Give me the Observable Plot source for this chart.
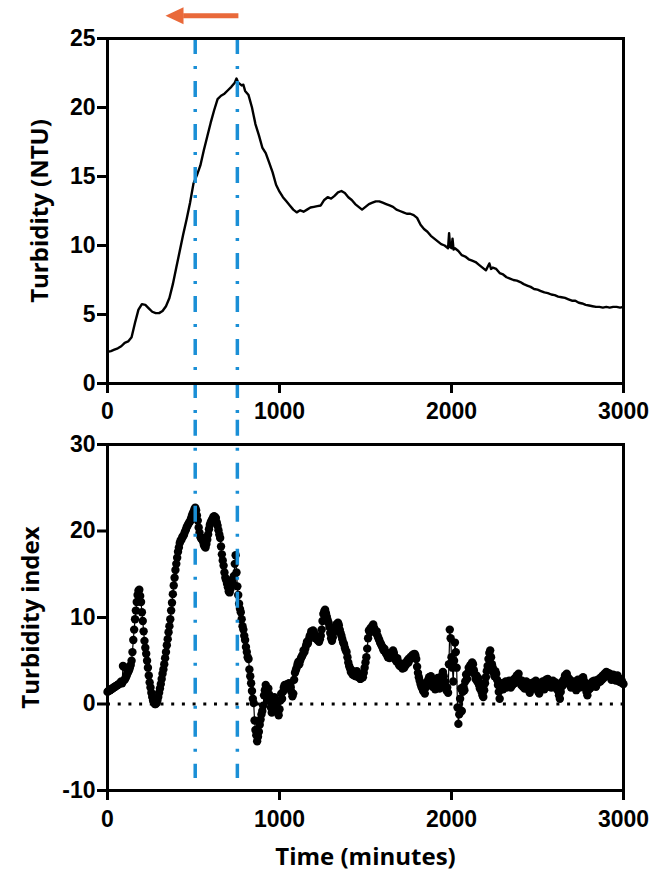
<!DOCTYPE html>
<html>
<head>
<meta charset="utf-8">
<script src="https://cdn.jsdelivr.net/npm/d3@7"></script>
<script src="https://cdn.jsdelivr.net/npm/@observablehq/plot@0.6"></script>
<style>
  html, body { margin: 0; padding: 0; background: #fff; }
  #wrap { width: 662px; height: 874px; position: relative; }
  #wrap svg { display: block; }
</style>
</head>
<body>
<div id="wrap"></div>
<script>
// ---------- data ----------
const xTicks = [0, 1000, 2000, 3000];
const topYTicks = [0, 5, 10, 15, 20, 25];
const botYTicks = [-10, 0, 10, 20, 30];
const topLabel = "Turbidity (NTU)";
const botLabel = "Turbidity index";
const xLabel = "Time (minutes)";

// vertical guide lines (minutes)
const guideTimes = [510, 755];
// orange arrow annotation (minutes, NTU)
const arrowStart = [761, 26.65];
const arrowEnd = [440, 26.65];
const arrowHead = [407, 26.65];

// top panel: turbidity (NTU)
const topTime = [0,20,40,60,80,100,110,120,140,160,180,200,220,240,260,280,300,320,340,360,380,400,420,440,460,480,500,520,540,560,580,600,620,640,660,680,700,720,740,750,760,780,790,800,820,840,860,880,900,920,940,960,980,1000,1020,1040,1060,1080,1100,1120,1140,1160,1180,1200,1220,1240,1260,1280,1300,1320,1340,1360,1380,1400,1420,1440,1460,1480,1500,1520,1540,1560,1580,1600,1620,1640,1660,1680,1700,1720,1740,1760,1780,1800,1820,1840,1860,1880,1900,1920,1940,1960,1980,1986,1992,2000,2006,2012,2020,2040,2060,2080,2100,2120,2140,2160,2180,2200,2220,2230,2240,2260,2280,2300,2320,2340,2360,2380,2400,2420,2440,2460,2480,2500,2520,2540,2560,2580,2600,2620,2640,2660,2680,2700,2720,2740,2760,2780,2800,2820,2840,2860,2880,2900,2920,2940,2960,2980,3000];
const topNTU = [2.3,2.35,2.45,2.55,2.7,2.95,3.0,3.05,3.35,4.4,5.35,5.75,5.7,5.45,5.2,5.1,5.1,5.25,5.6,6.2,7.2,8.4,9.6,10.8,11.9,13.1,14.5,15.1,15.8,16.9,17.9,18.9,19.8,20.6,20.85,21.0,21.25,21.5,21.8,22.1,21.8,21.6,21.65,21.2,20.9,20.0,18.8,18.0,17.1,16.7,16.0,15.3,14.4,13.9,13.5,13.2,12.9,12.6,12.4,12.55,12.45,12.6,12.75,12.8,12.85,12.9,13.3,13.5,13.4,13.6,13.85,13.95,13.8,13.5,13.3,13.0,12.8,12.6,12.8,13.0,13.1,13.2,13.2,13.1,13.0,12.9,12.8,12.6,12.5,12.4,12.3,12.3,12.2,12.0,11.5,11.2,11.0,10.7,10.5,10.3,10.1,10.0,9.8,10.9,9.9,9.8,10.5,9.7,9.8,9.6,9.3,9.2,9.0,8.9,8.8,8.6,8.4,8.2,8.7,8.3,8.4,8.3,8.0,7.9,7.7,7.6,7.5,7.45,7.35,7.2,7.1,7.0,6.85,6.8,6.7,6.6,6.55,6.45,6.4,6.3,6.25,6.2,6.1,6.0,6.0,5.85,5.8,5.7,5.65,5.6,5.55,5.55,5.5,5.55,5.5,5.55,5.55,5.5,5.55];

// bottom panel: turbidity index (one reading every 5 minutes)
const botTime = [
  0,5,10,15,20,25,30,35,40,45,50,55,60,65,70,75,80,85,90,95,
  100,105,110,115,120,125,130,135,140,145,150,155,160,165,170,175,180,185,190,195,
  200,205,210,215,220,225,230,235,240,245,250,255,260,265,270,275,280,285,290,295,
  300,305,310,315,320,325,330,335,340,345,350,355,360,365,370,375,380,385,390,395,
  400,405,410,415,420,425,430,435,440,445,450,455,460,465,470,475,480,485,490,495,
  500,505,510,515,520,525,530,535,540,545,550,555,560,565,570,575,580,585,590,595,
  600,605,610,615,620,625,630,635,640,645,650,655,660,665,670,675,680,685,690,695,
  700,705,710,715,720,725,730,735,740,745,750,755,760,765,770,775,780,785,790,795,
  800,805,810,815,820,825,830,835,840,845,850,855,860,865,870,875,880,885,890,895,
  900,905,910,915,920,925,930,935,940,945,950,955,960,965,970,975,980,985,990,995,
  1000,1005,1010,1015,1020,1025,1030,1035,1040,1045,1050,1055,1060,1065,1070,1075,1080,1085,1090,1095,
  1100,1105,1110,1115,1120,1125,1130,1135,1140,1145,1150,1155,1160,1165,1170,1175,1180,1185,1190,1195,
  1200,1205,1210,1215,1220,1225,1230,1235,1240,1245,1250,1255,1260,1265,1270,1275,1280,1285,1290,1295,
  1300,1305,1310,1315,1320,1325,1330,1335,1340,1345,1350,1355,1360,1365,1370,1375,1380,1385,1390,1395,
  1400,1405,1410,1415,1420,1425,1430,1435,1440,1445,1450,1455,1460,1465,1470,1475,1480,1485,1490,1495,
  1500,1505,1510,1515,1520,1525,1530,1535,1540,1545,1550,1555,1560,1565,1570,1575,1580,1585,1590,1595,
  1600,1605,1610,1615,1620,1625,1630,1635,1640,1645,1650,1655,1660,1665,1670,1675,1680,1685,1690,1695,
  1700,1705,1710,1715,1720,1725,1730,1735,1740,1745,1750,1755,1760,1765,1770,1775,1780,1785,1790,1795,
  1800,1805,1810,1815,1820,1825,1830,1835,1840,1845,1850,1855,1860,1865,1870,1875,1880,1885,1890,1895,
  1900,1905,1910,1915,1920,1925,1930,1935,1940,1945,1950,1955,1960,1965,1970,1975,1980,1985,1990,1995,
  2000,2005,2010,2015,2020,2025,2030,2035,2040,2045,2050,2055,2060,2065,2070,2075,2080,2085,2090,2095,
  2100,2105,2110,2115,2120,2125,2130,2135,2140,2145,2150,2155,2160,2165,2170,2175,2180,2185,2190,2195,
  2200,2205,2210,2215,2220,2225,2230,2235,2240,2245,2250,2255,2260,2265,2270,2275,2280,2285,2290,2295,
  2300,2305,2310,2315,2320,2325,2330,2335,2340,2345,2350,2355,2360,2365,2370,2375,2380,2385,2390,2395,
  2400,2405,2410,2415,2420,2425,2430,2435,2440,2445,2450,2455,2460,2465,2470,2475,2480,2485,2490,2495,
  2500,2505,2510,2515,2520,2525,2530,2535,2540,2545,2550,2555,2560,2565,2570,2575,2580,2585,2590,2595,
  2600,2605,2610,2615,2620,2625,2630,2635,2640,2645,2650,2655,2660,2665,2670,2675,2680,2685,2690,2695,
  2700,2705,2710,2715,2720,2725,2730,2735,2740,2745,2750,2755,2760,2765,2770,2775,2780,2785,2790,2795,
  2800,2805,2810,2815,2820,2825,2830,2835,2840,2845,2850,2855,2860,2865,2870,2875,2880,2885,2890,2895,
  2900,2905,2910,2915,2920,2925,2930,2935,2940,2945,2950,2955,2960,2965,2970,2975,2980,2985,2990,2995,
  3000
];
const botIndex = [
  1.4,1.5,1.55,1.6,1.7,1.75,1.8,1.9,1.95,2.0,2.1,2.15,2.2,2.3,2.35,2.45,2.6,2.4,4.4,4.3,
  2.8,3.0,3.2,3.5,3.7,3.9,4.2,4.5,5.0,6.0,7.4,8.6,9.8,10.8,11.8,12.6,13.1,13.2,12.5,11.8,
  10.6,9.6,8.4,7.3,6.5,5.8,5.0,4.2,3.3,2.5,1.9,1.3,0.8,0.4,0.2,0.0,0.0,0.1,0.4,0.8,
  1.3,1.8,2.3,2.9,3.5,4.0,4.6,5.3,6.0,6.8,7.5,8.3,9.0,9.8,10.8,11.7,12.7,13.7,14.6,15.5,
  16.2,16.9,17.6,18.1,18.6,18.9,19.0,19.3,19.4,19.6,19.9,20.1,20.4,20.6,20.8,21.0,21.1,21.4,21.7,22.0,
  22.2,22.5,22.7,22.4,21.8,21.2,20.4,19.8,19.3,19.1,19.2,18.8,18.4,18.2,18.1,18.5,19.0,19.6,20.2,20.7,
  21.0,21.2,21.4,21.6,21.7,21.6,21.5,21.0,20.6,20.1,19.6,19.2,18.2,17.3,16.6,16.0,15.2,14.6,14.3,13.9,
  13.5,13.0,12.9,13.3,13.8,14.4,13.9,14.8,16.2,17.2,15.2,13.6,12.6,11.6,11.0,10.6,9.8,9.0,8.6,7.9,
  7.4,6.6,6.0,5.4,5.2,4.0,3.2,2.4,1.5,0.6,0.1,-1.9,-3.0,-3.6,-4.3,-3.8,-3.2,-2.4,-1.8,-1.2,
  -0.8,-0.2,1.0,1.6,2.2,1.4,0.4,1.8,1.1,0.6,-0.4,-1.0,-0.6,0.2,0.8,0.2,-0.4,0.3,-0.9,-1.3,
  -0.6,0.4,1.2,0.6,1.4,1.9,2.2,2.0,1.8,2.3,2.1,2.4,2.2,1.9,1.4,0.9,1.2,2.8,3.6,3.9,
  4.2,4.6,4.9,4.6,5.0,5.3,5.5,5.7,6.2,6.0,6.4,6.8,7.2,7.0,7.4,7.8,8.0,8.4,8.2,8.5,
  8.3,7.9,7.6,7.8,7.4,7.6,7.2,7.5,7.9,8.6,9.6,10.4,10.7,10.9,10.5,10.1,9.7,9.4,8.9,8.2,
  7.6,7.3,7.7,8.3,8.6,8.9,9.2,9.0,9.4,9.1,8.6,8.2,7.9,7.5,7.1,6.9,6.5,6.2,6.0,5.4,
  4.8,4.4,4.1,3.7,3.9,3.4,3.6,3.3,3.5,3.2,3.8,3.4,3.1,3.3,2.9,3.0,3.4,3.1,3.6,4.2,
  4.8,5.4,6.4,7.6,8.5,8.3,8.8,8.6,9.0,9.2,8.8,8.5,8.2,8.4,7.9,7.6,7.4,7.1,6.9,6.7,
  6.5,6.2,6.4,6.0,5.8,5.9,5.4,5.6,5.3,5.8,5.5,6.0,6.2,5.9,5.4,5.1,4.9,5.3,4.8,4.5,
  4.4,4.7,4.3,4.1,4.4,4.2,4.7,4.5,4.9,5.1,4.8,5.3,5.2,5.5,5.3,5.7,5.5,5.8,5.6,5.2,
  4.3,3.6,3.1,2.7,2.3,2.0,1.8,1.5,1.6,1.2,1.9,2.5,2.2,2.8,3.1,2.6,3.2,2.4,2.0,2.6,
  2.2,1.7,1.9,2.4,3.0,2.6,1.8,2.2,2.8,3.3,3.7,3.2,2.6,2.0,1.6,1.9,1.3,4.6,8.6,7.6,
  5.4,4.2,2.6,5.0,7.1,6.0,4.2,-0.4,-2.3,-1.2,0.6,1.8,-0.8,1.4,2.0,1.6,2.6,3.4,2.9,3.6,
  4.2,3.9,4.5,4.1,4.8,4.6,3.9,3.4,2.9,3.3,2.6,3.0,2.2,1.8,2.4,1.4,1.0,0.8,1.6,2.4,
  3.1,3.8,4.4,5.2,5.9,6.2,5.4,4.6,4.2,3.6,3.2,3.8,3.5,2.8,2.2,1.4,0.6,1.8,2.4,2.0,
  1.7,2.3,2.0,2.6,1.9,2.4,2.1,2.7,2.3,1.9,2.5,2.2,2.8,2.4,3.0,2.6,3.3,3.0,3.5,2.8,
  2.5,2.2,2.7,2.0,2.4,1.8,2.3,2.6,1.9,2.2,1.6,1.3,1.9,2.4,2.0,2.5,1.8,2.2,2.7,2.3,
  1.8,1.4,1.2,1.9,2.4,2.0,2.6,2.2,1.7,2.3,2.8,2.4,2.9,2.5,2.0,2.6,1.9,2.3,2.7,2.2,
  2.0,2.5,1.8,2.2,1.5,1.0,0.6,1.4,2.0,2.6,2.2,2.9,3.3,3.0,3.5,3.1,2.6,2.9,2.3,1.9,
  2.4,2.0,2.6,1.9,2.2,1.6,2.4,2.8,2.3,1.9,2.5,2.9,2.6,3.1,2.7,2.3,1.8,1.4,1.0,1.6,
  2.1,1.8,2.4,2.0,2.6,2.2,2.7,2.4,2.0,2.3,2.8,2.5,2.9,2.6,3.1,2.8,3.3,3.0,3.5,3.2,
  3.7,3.4,3.6,3.3,3.5,3.1,2.8,3.2,3.4,2.9,3.1,2.7,3.0,3.3,2.9,2.6,2.9,2.5,2.7,2.4,
  2.3
];

// ---------- build ----------
const topData = topTime.map((t, i) => ({t, v: topNTU[i]}));
const botData = botTime.map((t, i) => ({t, v: botIndex[i]}));

const BLUE = "#1a8fd6";
const ORANGE = "#e9693a";
const TICK_FAMILY = "'Liberation Sans', Arial, sans-serif";
const TITLE_FAMILY = "'Open Sans', sans-serif";
const titleFont = {fontFamily: TITLE_FAMILY, fontWeight: "bold", fontSize: 24};
const fmt = d => String(d);

const leftTriangle = {
  draw(ctx) {
    ctx.moveTo(-12, 0);
    ctx.lineTo(6, -8.5);
    ctx.lineTo(6, 8.5);
    ctx.closePath();
  }
};
const dash = "16,12,3,12";

const topPlot = Plot.plot({
  width: 662,
  height: 420,
  marginLeft: 107,
  marginRight: 39,
  marginTop: 38,
  marginBottom: 37,
  style: {background: "white", color: "black", overflow: "visible", fontFamily: TICK_FAMILY, fontSize: "23px", fontWeight: "bold"},
  x: {domain: [0, 3000]},
  y: {domain: [0, 25]},
  marks: [
    Plot.line(topData, {x: "t", y: "v", stroke: "black", strokeWidth: 2.4}),
    Plot.ruleX(guideTimes, {x: d => d, y1: 25, y2: -2.7, stroke: BLUE, strokeWidth: 3.5, strokeDasharray: dash}),
    Plot.frame({stroke: "black", strokeWidth: 3}),
    Plot.axisX({ticks: xTicks, tickFormat: fmt, tickSize: 10, tickPadding: 9, strokeWidth: 3, label: null}),
    Plot.axisY({ticks: topYTicks, tickFormat: fmt, tickSize: 10, tickPadding: 2, strokeWidth: 3, label: null}),
    Plot.link([0], {x1: arrowStart[0], y1: arrowStart[1], x2: arrowEnd[0], y2: arrowEnd[1], stroke: ORANGE, strokeWidth: 5}),
    Plot.dot([0], {x: arrowHead[0], y: arrowHead[1], symbol: leftTriangle, fill: ORANGE, stroke: "none"}),
    Plot.text([topLabel], {text: d => d, frameAnchor: "left", textAnchor: "middle", lineAnchor: "middle", dx: -67, rotate: -90, fill: "black", ...titleFont})
  ]
});

const botPlot = Plot.plot({
  width: 662,
  height: 454,
  marginLeft: 107,
  marginRight: 39,
  marginTop: 24,
  marginBottom: 84,
  style: {background: "white", color: "black", overflow: "visible", fontFamily: TICK_FAMILY, fontSize: "23px", fontWeight: "bold"},
  x: {domain: [0, 3000]},
  y: {domain: [-10, 30]},
  marks: [
    Plot.ruleY([0], {stroke: "black", strokeWidth: 3, strokeDasharray: "3,7.7"}),
    Plot.line(botData, {x: "t", y: "v", stroke: "black", strokeWidth: 1.2}),
    Plot.dot(botData, {x: "t", y: "v", r: 4.2, fill: "black", stroke: "none"}),
    Plot.ruleX(guideTimes, {x: d => d, y1: 32.8, y2: -8.6, stroke: BLUE, strokeWidth: 3.5, strokeDasharray: dash}),
    Plot.frame({stroke: "black", strokeWidth: 3}),
    Plot.axisX({ticks: xTicks, tickFormat: fmt, tickSize: 10, tickPadding: 10, strokeWidth: 3, label: null}),
    Plot.axisY({ticks: botYTicks, tickFormat: fmt, tickSize: 10, tickPadding: 2, strokeWidth: 3, label: null}),
    Plot.text([botLabel], {text: d => d, frameAnchor: "left", textAnchor: "middle", lineAnchor: "middle", dx: -76, rotate: -90, fill: "black", ...titleFont}),
    Plot.text([xLabel], {text: d => d, frameAnchor: "bottom", textAnchor: "middle", lineAnchor: "middle", dy: 67, fill: "black", ...titleFont})
  ]
});

// make sure the tick labels use the heavy sans face of the original
for (const svg of [topPlot, botPlot]) {
  d3.select(svg).selectAll('g[aria-label$="tick label"]')
    .attr("font-family", TICK_FAMILY)
    .attr("font-weight", "bold")
    .attr("font-size", 23);
}

const wrap = document.getElementById("wrap");
wrap.appendChild(topPlot);
wrap.appendChild(botPlot);
</script>
</body>
</html>
